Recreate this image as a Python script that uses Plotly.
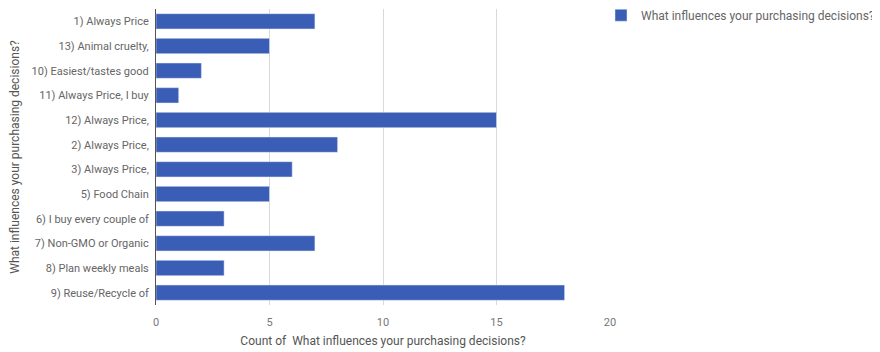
import plotly.graph_objects as go

categories = ["1) Always Price", "13) Animal cruelty,", "10) Easiest/tastes good",
              "11) Always Price, I buy", "12) Always Price,", "2) Always Price,",
              "3) Always Price,", "5) Food Chain", "6) I buy every couple of",
              "7) Non-GMO or Organic", "8) Plan weekly meals", "9) Reuse/Recycle of"]
counts = [7, 5, 2, 1, 15, 8, 6, 5, 3, 7, 3, 18]
series_name = "What influences your purchasing decisions?"
x_ticks = [0, 5, 10, 15, 20]

fig = go.Figure(go.Bar(
    y=categories, x=counts, orientation="h", name=series_name,
    marker=dict(color="#3a5db5"), width=0.62, showlegend=True,
))

fig.update_layout(
    width=880, height=352,
    margin=dict(l=148, r=278, t=1, b=55, autoexpand=False),
    plot_bgcolor="white", paper_bgcolor="white",
    font=dict(family="Roboto, Arial, sans-serif", size=11, color="#666"),
    showlegend=True,
    legend=dict(x=(593 - 148) / 454, y=1.028,
                xanchor="left", yanchor="top",
                font=dict(size=12, color="#666"), bgcolor="rgba(0,0,0,0)",
                itemwidth=30),
    xaxis=dict(range=[0, 20], tickvals=x_ticks, showgrid=True, gridcolor="#d9d9d9",
               zeroline=False, showline=False, automargin=False,
               ticks="outside", ticklen=7, tickcolor="rgba(0,0,0,0)",
               title=dict(text="Count of  What influences your purchasing decisions?",
                          font=dict(size=12, color="#555"), standoff=8),
               tickfont=dict(size=11, color="#777")),
    yaxis=dict(autorange="reversed", showline=True, linecolor="#555", linewidth=1,
               showgrid=False, automargin=False,
               ticks="outside", ticklen=4, tickcolor="rgba(0,0,0,0)",
               title=dict(text="What influences your purchasing decisions?",
                          font=dict(size=12, color="#555"), standoff=25),
               tickfont=dict(size=11, color="#666")),
)

fig.write_html("out.html")
